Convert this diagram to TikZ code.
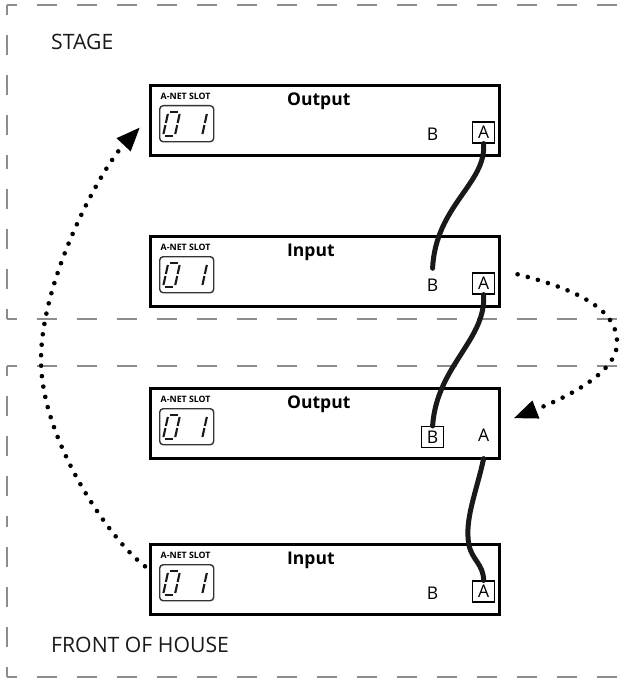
\documentclass[tikz,border=0pt]{standalone}
\usepackage{fontspec}
\setmainfont{Open Sans}
\usetikzlibrary{arrows.meta,positioning,calc}

\tikzset{
  %% rack unit
  unitbox/.style={rectangle, draw=black, line width=2.6pt, fill=white,
    minimum width=349pt, minimum height=70pt, inner sep=0pt},
  %% slot display
  slotdisp/.style={rectangle, rounded corners=3.5pt, draw=black!80, line width=1.4pt,
    minimum width=54pt, minimum height=36pt, inner sep=0pt},
  seg/.style={line width=2.1pt, draw=black!90},
  %% port labels
  port/.style={font=\fontsize{17.5}{17.5}\selectfont, inner sep=0pt,
    minimum width=22pt, minimum height=21pt},
  portbox/.style={port, draw=black, line width=1.1pt},
  unittitle/.style={font=\fontsize{17.5}{17.5}\selectfont\bfseries, anchor=west, inner sep=0pt},
  slotlbl/.style={font=\fontsize{8.8}{8.8}\selectfont\bfseries, anchor=west, inner sep=0pt},
  %% zones
  zone/.style={draw=black!45, line width=1.2pt, dash pattern=on 20pt off 20pt, dash phase=10pt},
  zonelbl/.style={font=\fontsize{21.2}{21.2}\selectfont, anchor=west, inner sep=0pt, text=black!90},
  %% connectors
  cable/.style={line width=5pt, line cap=round, draw=black!90},
  hop/.style={line width=4.6pt, line cap=round, dash pattern=on 0pt off 10.5pt,
    -{Triangle[length=24pt,width=18pt]}},
}

\begin{document}
\begin{tikzpicture}[x=1pt, y=-1pt]
  \useasboundingbox (0,0) rectangle (622,682);

  %% zones
  \foreach \ya/\yb in {5/319, 366/677} {
    \draw[zone] (7,\ya) -- (7,{(\ya+\yb)/2});
    \draw[zone] (7,\yb) -- (7,{(\ya+\yb)/2});
    \draw[zone] (7,\ya) -- (640,\ya);
    \draw[zone] (7,\yb) -- (640,\yb);
  }
  \node[zonelbl] (stagelbl) at (51,42) {STAGE};
  \node[zonelbl] (fohlbl) at (51,645) {FRONT OF HOUSE};

  %% units
  \foreach \nm/\top/\ttl/\ab/\bb in {stageout/84/Output/portbox/port,
      stagein/235/Input/portbox/port, fohout/387/Output/port/portbox,
      fohin/543/Input/portbox/port} {
    \node[unitbox, anchor=north west] (\nm) at (149,\top) {};
    \node[slotlbl] (\nm-lbl) at ([shift={(11.5,12)}]\nm.north west) {A-NET SLOT};
    \node[slotdisp, anchor=north west] (\nm-disp) at ([shift={(10,21)}]\nm.north west) {};
    \begin{scope}[shift={(\nm-disp.north west)}]
      \foreach \ua/\va/\ub/\vb in {2/24/9.8/24, 2/0/9.8/0, 0/2/0/11,
          0/13/0/22, 11.8/2/11.8/11, 11.8/13/11.8/22, 39/2/39/11, 39/13/39/22}
        \draw[seg] ({4+\ua+0.22*\va},{31-\va}) -- ({4+\ub+0.22*\vb},{31-\vb});
    \end{scope}
    \node[unittitle] (\nm-ttl) at ([shift={(138,17)}]\nm.north west) {\ttl};
    \node[\bb] (\nm-b) at ([shift={(-68,50)}]\nm.north east) {B};
    \node[\ab] (\nm-a) at ([shift={(-17,48.5)}]\nm.north east) {A};
  }

  %% cables
  \draw[cable] (stageout-a.south) .. controls +(3,40) and +(3,-63)
    .. ([shift={(0,-6)}]stagein-b.north);
  \draw[cable] (stagein-a.south) .. controls +(3,45) and +(4,-60) .. (fohout-b.north);
  \draw[cable] ([shift={(0,-1)}]fohout.south -| fohout-a) .. controls +(-7,33) and +(-5,-25)
    .. (469,545) .. controls +(3,15) and +(0,-16) .. (fohin-a.north);

  %% hops between zones
  \coordinate (hopl-start) at ([shift={(-4,-13)}]fohin.west);
  \coordinate (hopl-end) at ([shift={(-9,7)}]stageout.west);
  \draw[hop] (hopl-start) .. controls (110,540) and (41,440) .. (41,360)
    .. controls (41,280) and (100,170) .. (hopl-end);
  \coordinate (hopr-start) at ([shift={(17,3)}]stagein.east);
  \coordinate (hopr-end) at ([shift={(13,-5)}]fohout.east);
  \draw[hop] (hopr-start) .. controls (600,295) and (618,320) .. (617,344)
    .. controls (616,375) and (560,400) .. (hopr-end);
\end{tikzpicture}
\end{document}
